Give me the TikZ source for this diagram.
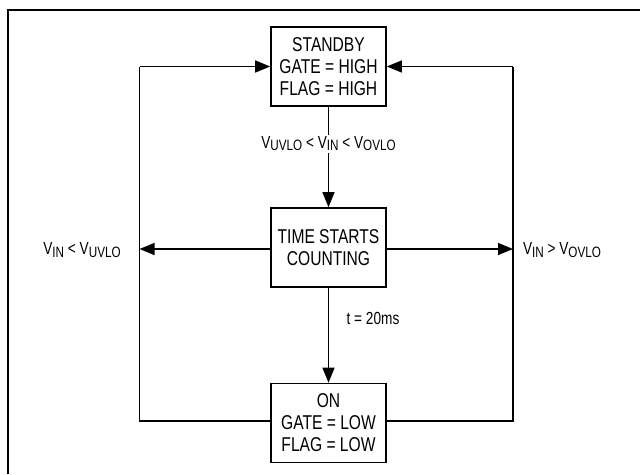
\documentclass[tikz,border=0pt]{standalone}
\usepackage{fontspec}
\setmainfont{Liberation Sans}[FakeStretch=0.78]
\usetikzlibrary{arrows.meta}

\newcommand{\lo}[1]{\raisebox{-2.2pt}{\fontsize{15}{15}\selectfont #1}}

\tikzset{
  state/.style={draw=black, line width=1.6pt, minimum width=115pt, minimum height=79pt,
    align=center, font=\fontsize{20}{22}\selectfont, inner sep=0pt},
  cond/.style={font=\fontsize{17.5}{20}\selectfont, inner sep=2pt},
  flow/.style={black, line width=1.3pt, -{Triangle[length=15pt,width=12pt]}},
  wire/.style={black, line width=1.3pt}
}

\begin{document}
\begin{tikzpicture}[x=1pt,y=-1pt]
        \useasboundingbox (0,0) rectangle (640,474);

        % frame
        \draw [black, line width=2.4pt] (8,474) -- (8,10) -- (640,10);

        \node[state] (standby) at (328.5,66.5) {STANDBY\\GATE = HIGH\\FLAG = HIGH};
        \node[state] (count) at (328.5,247.5) {TIME STARTS\\COUNTING};
        \node[state] (on) at (328.5,423) {ON\\GATE = LOW\\FLAG = LOW};

        \coordinate (lfttop) at (139.5,66.5);
        \coordinate (lftmid) at (139.5,249);
        \coordinate (lftbot) at (139.5,421);
        \coordinate (rgttop) at (513,66.5);
        \coordinate (rgtmid) at (513,249);
        \coordinate (rgtbot) at (513,421);

        \node[cond] (under) at (82,250) {V\lo{IN} < V\lo{UVLO}};
        \node[cond] (over) at (562,250) {V\lo{IN} > V\lo{OVLO}};
        \node[cond] (timer) at (373,318) {t = 20ms};

        % down the middle
        \draw [flow] (standby) -- node[cond, pos=0.37, fill=white] (window) {V\lo{UVLO} < V\lo{IN} < V\lo{OVLO}} (count);
        \draw [flow] (count) -- (on);

        % out to the sides
        \draw [flow] (count.west |- lftmid) -- (lftmid);
        \draw [flow] (count.east |- rgtmid) -- (rgtmid);

        % back to standby
        \draw [wire] (on.west |- lftbot) -- (lftbot) -- (lfttop);
        \draw [flow] (lfttop) -- (standby.west);
        \draw [wire] (on.east |- rgtbot) -- (rgtbot) -- (rgttop);
        \draw [flow] (rgttop) -- (standby.east);

\end{tikzpicture}
\end{document}
